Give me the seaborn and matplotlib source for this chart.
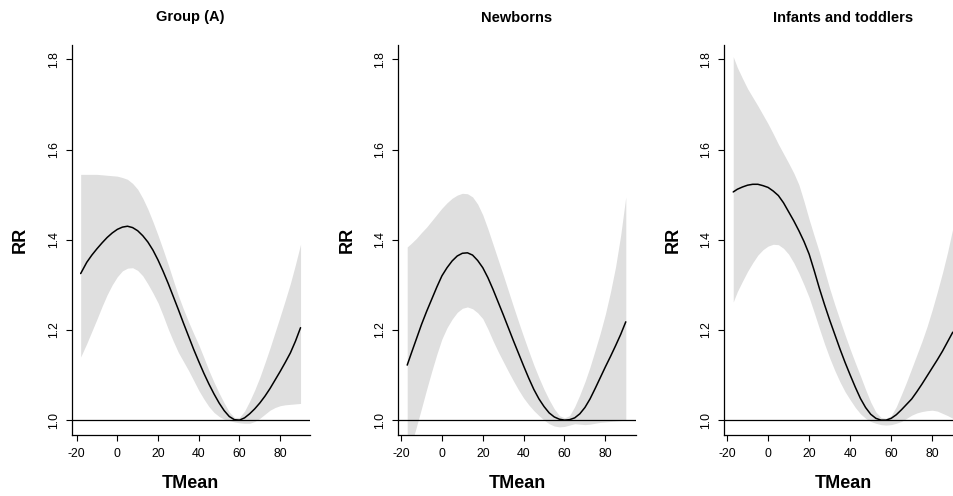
import matplotlib
matplotlib.use("Agg")
import matplotlib.pyplot as plt
import seaborn as sns
import pandas as pd

sns.set_style("white")
plt.rcParams['font.family'] = ['Liberation Sans', 'DejaVu Sans']
plt.rcParams['text.color'] = 'black'

titles = ["Group (A)", "Newborns", "Infants and toddlers"]
x_label = "TMean"
y_label = "RR"
x_ticks = [-20, 0, 20, 40, 60, 80]
y_ticks = [1.0, 1.2, 1.4, 1.6, 1.8]

# Panel 1: Group (A)
x_a = [-18, -15, -12.5, -10, -7.5, -5, -2.5, 0, 2.5, 5, 7.5, 10, 12.5, 15, 17.5, 20, 22.5, 25,
       27.5, 30, 32.5, 35, 37.5, 40, 42.5, 45, 47.5, 50, 52.5, 55, 57.5, 60, 62.5, 65, 67.5, 70,
       72.5, 75, 77.5, 80, 82.5, 85, 87.5, 90]
rr_a = [1.325, 1.350, 1.366, 1.380, 1.393, 1.405, 1.415, 1.423, 1.428, 1.430, 1.427, 1.420, 1.409,
        1.395, 1.377, 1.355, 1.330, 1.303, 1.274, 1.245, 1.215, 1.186, 1.157, 1.130, 1.104, 1.080,
        1.058, 1.038, 1.021, 1.008, 1.001, 1.000, 1.005, 1.014, 1.025, 1.038, 1.053, 1.070, 1.089,
        1.108, 1.128, 1.149, 1.175, 1.205]
hi_a = [1.545, 1.545, 1.545, 1.545, 1.544, 1.543, 1.542, 1.541, 1.538, 1.534, 1.525, 1.512, 1.492,
        1.468, 1.440, 1.410, 1.378, 1.345, 1.310, 1.276, 1.246, 1.218, 1.192, 1.167, 1.139, 1.110,
        1.084, 1.060, 1.038, 1.018, 1.006, 1.006, 1.020, 1.042, 1.067, 1.095, 1.127, 1.160, 1.195,
        1.230, 1.266, 1.303, 1.345, 1.390]
lo_a = [1.140, 1.170, 1.197, 1.224, 1.252, 1.278, 1.300, 1.318, 1.331, 1.337, 1.338, 1.332, 1.320,
        1.302, 1.282, 1.260, 1.232, 1.202, 1.175, 1.150, 1.130, 1.110, 1.088, 1.066, 1.047, 1.030,
        1.017, 1.008, 1.002, 0.999, 0.996, 0.994, 0.993, 0.993, 0.997, 1.004, 1.013, 1.022, 1.028,
        1.032, 1.034, 1.035, 1.036, 1.037]

# Panel 2: Newborns
x_b = [-17, -15, -12.5, -10, -7.5, -5, -2.5, 0, 2.5, 5, 7.5, 10, 12.5, 15, 17.5, 20, 22.5, 25,
       27.5, 30, 32.5, 35, 37.5, 40, 42.5, 45, 47.5, 50, 52.5, 55, 57.5, 60, 62.5, 65, 67.5, 70,
       72.5, 75, 77.5, 80, 82.5, 85, 87.5, 90]
rr_b = [1.122, 1.148, 1.180, 1.212, 1.241, 1.268, 1.295, 1.320, 1.338, 1.353, 1.364, 1.370, 1.371,
        1.366, 1.354, 1.338, 1.316, 1.290, 1.262, 1.234, 1.205, 1.176, 1.148, 1.120, 1.093, 1.068,
        1.047, 1.030, 1.016, 1.007, 1.002, 1.000, 1.001, 1.005, 1.014, 1.028, 1.047, 1.070, 1.094,
        1.118, 1.141, 1.165, 1.190, 1.218]
hi_b = [1.384, 1.392, 1.403, 1.416, 1.428, 1.442, 1.456, 1.470, 1.482, 1.492, 1.499, 1.503, 1.502,
        1.495, 1.479, 1.455, 1.424, 1.390, 1.356, 1.322, 1.287, 1.252, 1.218, 1.185, 1.153, 1.122,
        1.094, 1.068, 1.045, 1.025, 1.010, 1.005, 1.010, 1.030, 1.056, 1.085, 1.118, 1.155, 1.193,
        1.235, 1.284, 1.340, 1.410, 1.495]
lo_b = [0.930, 0.945, 0.985, 1.026, 1.068, 1.108, 1.146, 1.180, 1.205, 1.224, 1.239, 1.248, 1.251,
        1.247, 1.238, 1.225, 1.202, 1.176, 1.152, 1.130, 1.108, 1.087, 1.067, 1.049, 1.034, 1.021,
        1.010, 1.000, 0.992, 0.987, 0.985, 0.986, 0.989, 0.992, 0.991, 0.990, 0.991, 0.993, 0.995,
        0.996, 0.997, 0.998, 0.999, 1.000]

# Panel 3: Infants and toddlers
x_c = [-17, -15, -12.5, -10, -7.5, -5, -2.5, 0, 2.5, 5, 7.5, 10, 12.5, 15, 17.5, 20, 22.5, 25,
       27.5, 30, 32.5, 35, 37.5, 40, 42.5, 45, 47.5, 50, 52.5, 55, 57.5, 60, 62.5, 65, 67.5, 70,
       72.5, 75, 77.5, 80, 82.5, 85, 87.5, 90]
rr_c = [1.506, 1.512, 1.517, 1.521, 1.523, 1.523, 1.520, 1.516, 1.508, 1.498, 1.482, 1.462, 1.442,
        1.420, 1.396, 1.368, 1.331, 1.292, 1.256, 1.222, 1.190, 1.158, 1.128, 1.100, 1.073, 1.048,
        1.028, 1.013, 1.004, 1.000, 1.000, 1.004, 1.012, 1.023, 1.035, 1.047, 1.063, 1.080, 1.098,
        1.116, 1.134, 1.153, 1.174, 1.195]
hi_c = [1.806, 1.782, 1.758, 1.735, 1.716, 1.697, 1.677, 1.657, 1.635, 1.612, 1.591, 1.570, 1.548,
        1.522, 1.485, 1.445, 1.408, 1.372, 1.332, 1.292, 1.256, 1.222, 1.189, 1.157, 1.127, 1.098,
        1.068, 1.040, 1.018, 1.006, 1.004, 1.010, 1.030, 1.057, 1.085, 1.115, 1.145, 1.175, 1.208,
        1.245, 1.285, 1.327, 1.373, 1.425]
lo_c = [1.262, 1.285, 1.308, 1.330, 1.349, 1.366, 1.378, 1.386, 1.390, 1.389, 1.381, 1.368, 1.349,
        1.326, 1.300, 1.272, 1.238, 1.203, 1.169, 1.138, 1.110, 1.085, 1.063, 1.045, 1.028, 1.014,
        1.004, 0.997, 0.993, 0.990, 0.989, 0.990, 0.993, 0.997, 1.004, 1.011, 1.016, 1.019, 1.021,
        1.022, 1.020, 1.015, 1.010, 1.004]

panels = [(x_a, rr_a, lo_a, hi_a), (x_b, rr_b, lo_b, hi_b), (x_c, rr_c, lo_c, hi_c)]

W, H = 954, 496
fig = plt.figure(figsize=(W / 100, H / 100), dpi=100)

left_px = [71.5, 398.0, 724.0]
xlims = [(-22.5, 94.4), (-21.5, 95.0), (-21.5, 94.5)]
ax_w = 238.0
top_px, bot_px = 44.5, 435.0
ylim = (0.967, 1.833)
ah = bot_px - top_px

for i, (xs, rr, lo, hi) in enumerate(panels):
    ax = fig.add_axes([left_px[i] / W, 1 - bot_px / H, ax_w / W, ah / H])
    ax.fill_between(xs, lo, hi, color="#dfdfdf", linewidth=0)
    df = pd.DataFrame({"TMean": xs, "RR": rr})
    sns.lineplot(data=df, x="TMean", y="RR", ax=ax, color="black", linewidth=1.1)
    ax.axhline(1.0, color="black", linewidth=0.9)
    ax.set_xlim(*xlims[i])
    ax.set_ylim(*ylim)
    ax.set_xticks(x_ticks)
    ax.set_yticks(y_ticks)
    ax.set_xticklabels([str(t) for t in x_ticks])
    ax.set_yticklabels([f"{t:.1f}" for t in y_ticks], rotation=90, va="center")
    ax.tick_params(axis="both", direction="out", length=4.5, width=0.8, colors="black",
                   labelsize=8.8, bottom=True, left=True)
    ax.tick_params(axis="x", pad=5)
    ax.tick_params(axis="y", pad=4)
    for s in ["top", "right"]:
        ax.spines[s].set_visible(False)
    for s in ["left", "bottom"]:
        ax.spines[s].set_color("black")
        ax.spines[s].set_linewidth(0.9)
    ax.set_xlabel("")
    ax.set_ylabel("")
    ax.grid(False)
    ax.text(0.5, (bot_px - 483.5) / ah, x_label, transform=ax.transAxes, ha="center",
            va="center", fontsize=13, fontweight="bold", color="black")
    ax.text(-51.0 / ax_w, 0.5, y_label, transform=ax.transAxes, ha="center",
            va="center", rotation=90, fontsize=13, fontweight="bold", color="black")
    ax.text(0.5, (bot_px - 17.5) / ah, titles[i], transform=ax.transAxes, ha="center",
            va="center", fontsize=10.5, fontweight="bold", color="black")

fig.savefig("out.png", dpi=100)
